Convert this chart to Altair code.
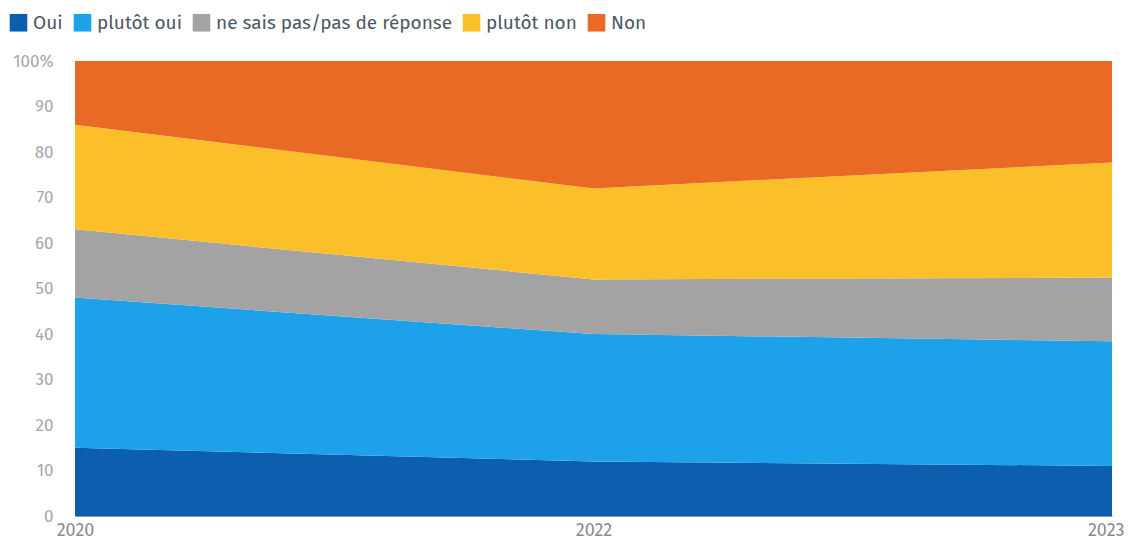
import altair as alt
import pandas as pd

years = ["2020", "2022", "2023"]
categories = ["Oui", "plutôt oui", "ne sais pas/pas de réponse", "plutôt non", "Non"]
colors = ["#0b5fae", "#1ea1eb", "#a3a3a3", "#fbbf2a", "#e96a24"]
values = {
    "Oui": [15, 12, 11],
    "plutôt oui": [33, 28, 27.4],
    "ne sais pas/pas de réponse": [15, 12, 14],
    "plutôt non": [23, 20, 25.3],
    "Non": [14, 28, 22.3],
}

rows = []
for i, c in enumerate(categories):
    for y, v in zip(years, values[c]):
        rows.append({"year": y, "cat": c, "value": v, "idx": i})
df = pd.DataFrame(rows)

font = "Fira Sans, Noto Sans, sans-serif"

chart = alt.Chart(df).mark_area(opacity=1).encode(
    x=alt.X("year:O", sort=years,
            scale=alt.Scale(type="point", padding=0, range=[13, 1050]),
            axis=alt.Axis(title=None, labelAngle=0, ticks=False, domain=True,
                          domainColor="#8e949a", labelColor="#858b91",
                          labelFontSize=18, labelPadding=5, labelFont=font,
                          labelAlign={"condition": {"test": "datum.label == '2023'", "value": "right"},
                                      "value": "center"},
                          labelOffset={"condition": {"test": "datum.label == '2023'", "value": 12},
                                       "value": 0})),
    y=alt.Y("value:Q", stack="zero",
            scale=alt.Scale(domain=[0, 100], nice=False),
            axis=alt.Axis(title=None, values=list(range(0, 101, 10)), ticks=False,
                          domain=False, gridColor="#e9e9e9", labelColor="#a4a8ad",
                          labelFontSize=17, labelPadding=9, labelFont=font,
                          labelExpr="datum.value == 100 ? '100%' : datum.label")),
    color=alt.Color("cat:N", sort=categories,
                    scale=alt.Scale(domain=categories, range=colors),
                    legend=alt.Legend(title=None, orient="none", direction="horizontal",
                                      legendX=-53, legendY=-48,
                                      symbolType="square", symbolSize=310,
                                      symbolStrokeWidth=0, symbolOpacity=1,
                                      labelFontSize=19, labelColor="#4b5866",
                                      labelFont=font, columnPadding=10,
                                      labelOffset=5, labelLimit=0)),
    order=alt.Order("idx:Q", sort="ascending"),
).properties(
    width=1060, height=455,
    autosize=alt.AutoSizeParams(type="none"),
    padding={"left": 54, "top": 53, "right": 2, "bottom": 26},
).configure_view(stroke=None)

chart.save("out.html", embed_options={"renderer": "svg", "actions": False})
